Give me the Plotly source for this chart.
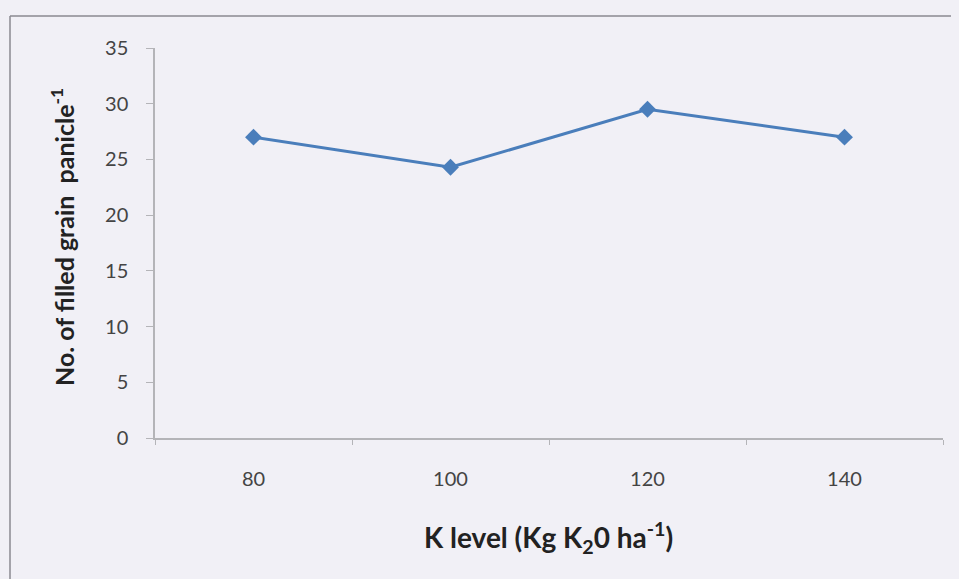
import plotly.graph_objects as go

k_levels = ["80", "100", "120", "140"]
filled_grain = [27.0, 24.3, 29.5, 27.0]
y_ticks = [0, 5, 10, 15, 20, 25, 30, 35]

# page has an 8px body margin, so the figure is drawn 8px in from the window edge
W, H = 951, 571
L, R, T, B = 147, 16, 40, 141
pw, ph = W - L - R, H - T - B


def px_x(x):  # figure px -> paper x
    return (x - L) / pw


def px_y(y):  # figure px -> paper y
    return (T + ph - y) / ph


fig = go.Figure()
fig.add_trace(go.Scatter(
    x=k_levels, y=filled_grain, mode="lines+markers",
    line=dict(color="#4a7ebb", width=3),
    marker=dict(symbol="diamond", size=13, color="#4a7ebb"),
    showlegend=False,
))

bg = "#f1f0f6"
fig.update_layout(
    width=W, height=H,
    margin=dict(l=L, r=R, t=T, b=B),
    paper_bgcolor=bg,
    plot_bgcolor=bg,
    font=dict(family="Lato, Open Sans, sans-serif", color="#444"),
    xaxis=dict(
        type="category", showgrid=False,
        showline=True, linecolor="#b4b4b8", linewidth=1.5,
        ticks="outside", tickson="boundaries", ticklen=5, tickcolor="#b4b4b8",
        tickfont=dict(size=20, color="#444"),
        ticklabelstandoff=22,
        range=[-0.5, 3.5],
    ),
    yaxis=dict(
        range=[0, 35], tickvals=y_ticks, showgrid=False, zeroline=False,
        showline=True, linecolor="#b4b4b8", linewidth=1.5,
        ticks="outside", ticklen=7, tickcolor="#b4b4b8",
        tickfont=dict(size=20, color="#444"),
        ticklabelstandoff=14,
    ),
    annotations=[
        dict(text="<b>No. of filled grain  panicle<sup>-1</sup></b>",
             xref="paper", yref="paper", x=px_x(54), y=px_y(229),
             xanchor="center", yanchor="middle", textangle=-90, showarrow=False,
             font=dict(size=25, color="#222")),
        dict(text="<b>K level (Kg K<sub>2</sub>0 ha<sup>-1</sup>)</b>",
             xref="paper", yref="paper", x=px_x(540), y=px_y(529),
             xanchor="center", yanchor="middle", showarrow=False,
             font=dict(size=28, color="#222")),
    ],
)

# outer frame lines (top and left) of the scanned chart box
x0 = px_x(2)
y0 = px_y(8)
fig.add_shape(type="line", xref="paper", yref="paper", x0=x0, x1=px_x(W + 2),
              y0=y0, y1=y0, line=dict(color="#8a8a90", width=1.5))
fig.add_shape(type="line", xref="paper", yref="paper", x0=x0, x1=x0,
              y0=y0, y1=px_y(H + 2), line=dict(color="#8a8a90", width=1.5))

fig.write_html("out.html",
               post_script=f"document.body.style.background='{bg}';"
                           "document.body.style.overflow='hidden';")
